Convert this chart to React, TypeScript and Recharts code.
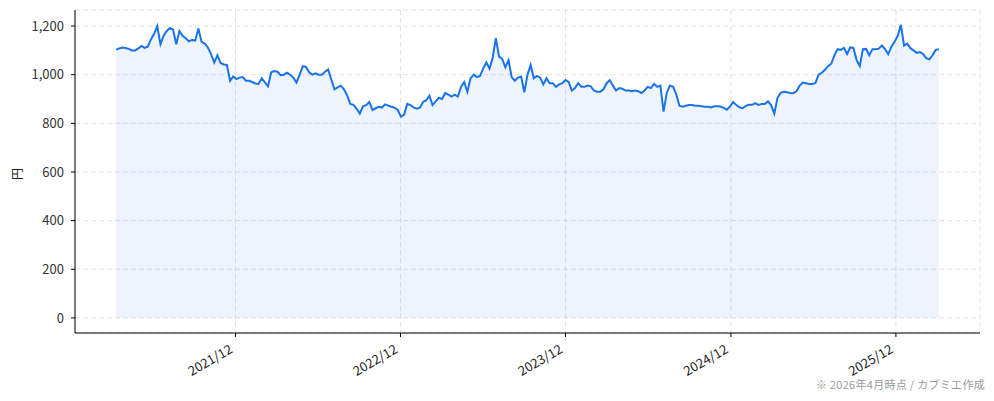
import { AreaChart, Area, XAxis, YAxis, CartesianGrid } from 'recharts';

// weekly closes (yen), first week starting 2021-03-12
const START = Date.UTC(2021, 2, 12);
const WEEK = 7 * 24 * 3600 * 1000;

const weeklyClose = [
  1103, 1108, 1112, 1110, 1106, 1100, 1100, 1108, 1118, 1110,
  1115, 1145, 1168, 1200, 1125, 1160, 1180, 1192, 1185, 1125,
  1180, 1160, 1150, 1137, 1143, 1140, 1190, 1135, 1128, 1112,
  1085, 1050, 1080, 1048, 1042, 1040, 975, 993, 982, 988,
  990, 975, 975, 970, 964, 962, 985, 968, 952, 1010,
  1015, 1012, 998, 1000, 1008, 1000, 988, 968, 1000, 1035,
  1032, 1010, 1000, 1006, 1000, 1000, 1012, 1022, 980, 940,
  948, 955, 940, 915, 880, 876, 860, 840, 870, 875,
  888, 855, 862, 868, 865, 878, 873, 868, 864, 855,
  828, 835, 880, 875, 866, 860, 864, 888, 895, 914,
  875, 890, 905, 900, 925, 918, 910, 918, 910, 950,
  970, 930, 985, 1000, 990, 995, 1025, 1050, 1025, 1070,
  1150, 1075, 1065, 1030, 1060, 990, 975, 988, 992, 928,
  1000, 1040, 985, 995, 988, 960, 985, 965, 965, 950,
  960, 965, 978, 970, 935, 945, 965, 950, 950, 955,
  952, 935, 930, 930, 940, 965, 978, 955, 935, 945,
  942, 935, 935, 932, 935, 932, 925, 935, 950, 945,
  962, 950, 955, 848, 925, 955, 950, 920, 872, 868,
  872, 875, 875, 872, 872, 870, 868, 868, 865, 870,
  870, 869, 864, 856, 870, 888, 875, 866, 862, 872,
  876, 876, 883, 876, 880, 880, 890, 875, 840, 905,
  925, 930, 928, 925, 924, 932, 955, 968, 965, 962,
  962, 966, 1000, 1008, 1020, 1035, 1045, 1080, 1105, 1102,
  1110, 1085, 1112, 1110, 1060, 1036, 1105, 1106, 1080, 1105,
  1105, 1107, 1120, 1105, 1085, 1115, 1135, 1160, 1205, 1120,
  1128, 1109, 1100, 1090, 1093, 1085, 1068, 1063, 1080, 1102,
  1105,
];

const tickYears = [2021, 2022, 2023, 2024, 2025];
const yTicks = [0, 200, 400, 600, 800, 1000, 1200];

const data = weeklyClose.map((price, i) => ({ t: START + i * WEEK, price }));
const first = data[0].t;
const last = data[data.length - 1].t;
const pad = (last - first) * 0.05;
const xTicks = tickYears.map(y => Date.UTC(y, 11, 1));

const FONT = '"Noto Sans CJK JP", "Noto Sans", sans-serif';

function DateTick({ x, y, payload }: any) {
  const d = new Date(payload.value);
  const label = `${d.getUTCFullYear()}/${d.getUTCMonth() + 1}`;
  return (
    <g transform={`translate(${x - 2},${y + 13}) rotate(-30)`}>
      <text x={0} y={0} textAnchor="end" fill="#222" fontSize={13} fontFamily={FONT}>{label}</text>
    </g>
  );
}

export default function App() {
  return (
    <div style={{ position: 'absolute', left: 0, top: 0, width: 994, height: 401, background: '#fff', fontFamily: FONT }}>
      <AreaChart width={994} height={401} data={data} margin={{ top: 10, right: 14, bottom: 0, left: 0 }}>
        <CartesianGrid stroke="#e2e2e2" strokeDasharray="5 3" />
        <XAxis
          type="number"
          dataKey="t"
          domain={[first - pad, last + pad]}
          ticks={xTicks}
          interval={0}
          height={68}
          tickSize={4}
          tick={<DateTick />}
          axisLine={{ stroke: '#000' }}
          tickLine={{ stroke: '#000' }}
        />
        <YAxis
          type="number"
          domain={[-62, 1266]}
          ticks={yTicks}
          allowDataOverflow
          width={75}
          tickSize={4}
          tickMargin={7}
          tick={{ fill: '#333', fontSize: 13, fontFamily: FONT }}
          tickFormatter={(v: number) => v.toLocaleString('en-US')}
          axisLine={{ stroke: '#000' }}
          tickLine={{ stroke: '#000' }}
        />
        <Area
          type="linear"
          dataKey="price"
          stroke="#1a73e8"
          strokeWidth={2}
          fill="#1a73e8"
          fillOpacity={0.08}
          baseValue={0}
          dot={false}
          activeDot={false}
          isAnimationActive={false}
        />
      </AreaChart>
      <div style={{ position: 'absolute', left: 10, top: 166, width: 14, height: 14, fontSize: 12, lineHeight: '14px', color: '#222', transform: 'rotate(-90deg)' }}>円</div>
      <div style={{ position: 'absolute', right: 9, top: 378, fontSize: 11, lineHeight: '12px', letterSpacing: '0.3px', color: '#999', whiteSpace: 'nowrap' }}>※ 2026年4月時点 / カブミエ作成</div>
    </div>
  );
}
